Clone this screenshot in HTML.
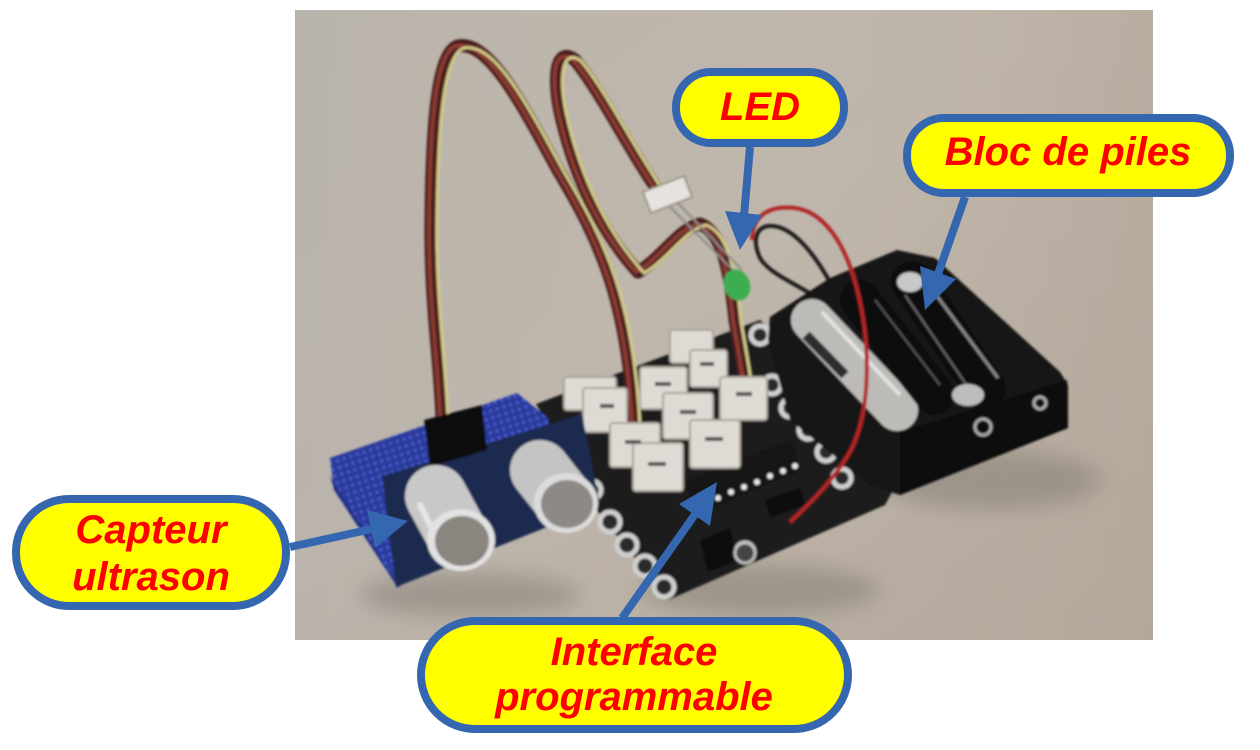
<!DOCTYPE html>
<html><head><meta charset="utf-8"><style>
html,body{margin:0;padding:0;background:#fff;}
svg{display:block;}
text{font-family:"Liberation Sans",Arial,sans-serif;font-weight:bold;font-style:italic;font-size:40px;fill:#ff0000;}
</style></head><body>
<svg width="1260" height="750" viewBox="0 0 1260 750" xmlns="http://www.w3.org/2000/svg">
<defs>
<linearGradient id="bg" x1="0" y1="0" x2="1" y2="1">
<stop offset="0" stop-color="#bcb6ae"/>
<stop offset="0.45" stop-color="#c0b7ac"/>
<stop offset="1" stop-color="#b2a699"/>
</linearGradient>
<linearGradient id="bg2" x1="0" y1="0" x2="1" y2="0">
<stop offset="0" stop-color="#b5b1ab" stop-opacity="0.6"/>
<stop offset="0.5" stop-color="#c0b7ac" stop-opacity="0"/>
<stop offset="1" stop-color="#b5a89a" stop-opacity="0.6"/>
</linearGradient>
<filter id="blur" x="-50%" y="-50%" width="200%" height="200%"><feGaussianBlur stdDeviation="10"/></filter>
<filter id="sblur"><feGaussianBlur stdDeviation="1"/></filter>
<pattern id="holes" width="7" height="7" patternUnits="userSpaceOnUse" patternTransform="rotate(-18)">
<rect width="7" height="7" fill="#2b3a9c"/><rect x="2" y="2" width="3" height="3" fill="#4a5ccc"/>
</pattern>
</defs>
<rect width="1260" height="750" fill="#fff"/>
<rect x="295" y="10" width="858" height="630" fill="url(#bg)"/>
<rect x="295" y="10" width="858" height="630" fill="url(#bg2)"/>

<g filter="url(#blur)" opacity="0.45">
<ellipse cx="470" cy="595" rx="110" ry="22" fill="#7d766d"/>
<ellipse cx="760" cy="590" rx="120" ry="25" fill="#7d766d"/>
<ellipse cx="990" cy="480" rx="110" ry="30" fill="#7d766d"/>
</g>

<g filter="url(#sblur)">
<!-- main board -->
<polygon points="536,404 760,320 905,468 885,505 668,600 598,512" fill="#1b1b1d"/>
<g fill="#2a2a2a" stroke="#cfcfcf" stroke-width="5">
<circle cx="560" cy="440" r="9"/><circle cx="577" cy="465" r="9"/><circle cx="592" cy="490" r="9"/>
<circle cx="610" cy="522" r="10"/><circle cx="627" cy="545" r="10"/><circle cx="645" cy="566" r="10"/><circle cx="664" cy="587" r="10"/>
<circle cx="772" cy="385" r="9"/><circle cx="790" cy="408" r="9"/><circle cx="808" cy="430" r="9"/><circle cx="826" cy="452" r="9"/><circle cx="842" cy="478" r="9"/>
<circle cx="760" cy="335" r="9"/><circle cx="745" cy="552" r="9"/>
</g>
<!-- IC -->
<polygon points="684,482 790,440 802,470 698,514" fill="#121212"/>
<g fill="#e8e8e8"><circle cx="705" cy="503" r="3"/><circle cx="718" cy="498" r="3"/><circle cx="731" cy="492" r="3"/><circle cx="744" cy="487" r="3"/><circle cx="757" cy="482" r="3"/><circle cx="770" cy="476" r="3"/><circle cx="783" cy="471" r="3"/><circle cx="795" cy="466" r="3"/></g>
<polygon points="765,500 800,488 805,505 770,518" fill="#0d0d0d"/>
<polygon points="700,540 730,528 738,560 708,572" fill="#0d0d0d"/>
<circle cx="745" cy="553" r="10" fill="#444" stroke="#bbb" stroke-width="3"/>

<!-- cables -->
<g fill="none" stroke-linecap="round" stroke-linejoin="round">
<path d="M442 418 C440 360 430 300 431 220 C432 120 438 52 458 46 C488 40 520 100 558 170 C600 240 628 300 634 425" stroke="#4a1d1a" stroke-width="13"/>
<path d="M442 418 C440 360 430 300 431 220 C432 120 438 52 458 46 C488 40 520 100 558 170 C600 240 628 300 634 425" stroke="#8a3a30" stroke-width="4" transform="translate(-2,0)"/>
<path d="M442 418 C440 360 430 300 431 220 C432 120 438 52 458 46 C488 40 520 100 558 170 C600 240 628 300 634 425" stroke="#d4cc8a" stroke-width="3" transform="translate(6,2)"/>
<path d="M655 186 C630 150 600 90 575 60 C555 45 552 80 562 120 C575 175 600 230 638 272 C660 260 680 228 700 224 C722 232 730 270 735 320 C740 350 744 370 746 388" stroke="#4a1d1a" stroke-width="13"/>
<path d="M655 186 C630 150 600 90 575 60 C555 45 552 80 562 120 C575 175 600 230 638 272 C660 260 680 228 700 224 C722 232 730 270 735 320 C740 350 744 370 746 388" stroke="#8a3a30" stroke-width="4" transform="translate(-2,0)"/>
<path d="M655 186 C630 150 600 90 575 60 C555 45 552 80 562 120 C575 175 600 230 638 272 C660 260 680 228 700 224 C722 232 730 270 735 320 C740 350 744 370 746 388" stroke="#d4cc8a" stroke-width="3" transform="translate(6,1)"/>
</g>

<!-- white connectors -->
<g fill="#dedad4" stroke="#aaa39a" stroke-width="2">
<rect x="564" y="377" width="52" height="33" rx="3"/>
<rect x="583" y="388" width="44" height="44" rx="3"/>
<rect x="640" y="367" width="47" height="42" rx="3"/>
<rect x="670" y="330" width="43" height="33" rx="3"/>
<rect x="690" y="350" width="37" height="37" rx="3"/>
<rect x="663" y="393" width="50" height="46" rx="3"/>
<rect x="720" y="377" width="47" height="43" rx="3"/>
<rect x="610" y="423" width="50" height="44" rx="3"/>
<rect x="690" y="420" width="50" height="48" rx="3"/>
<rect x="633" y="443" width="50" height="48" rx="3"/>
</g>
<g fill="#555"><rect x="600" y="404" width="14" height="4"/><rect x="625" y="440" width="16" height="4"/><rect x="648" y="462" width="18" height="4"/><rect x="680" y="410" width="16" height="4"/><rect x="705" y="437" width="18" height="4"/><rect x="655" y="382" width="16" height="4"/><rect x="736" y="392" width="16" height="4"/><rect x="700" y="362" width="14" height="4"/></g>

<!-- breadboard -->
<polygon points="330,458 517,393 548,418 552,442 398,588 334,490" fill="url(#holes)"/>
<polygon points="334,488 398,588 394,580 330,476" fill="#1f2b78"/>
<polygon points="382,476 582,414 600,506 396,587" fill="#1d2a50"/>
<polygon points="424,420 482,405 487,450 430,467" fill="#0d0d0d"/>
<line x1="540" y1="470" x2="566" y2="503" stroke="#c4c4c4" stroke-width="60" stroke-linecap="round"/>
<ellipse cx="566" cy="503" rx="32" ry="30" fill="#dcdcdc"/>
<ellipse cx="567" cy="504" rx="26" ry="24" fill="#8e8984"/>
<line x1="436" y1="496" x2="460" y2="540" stroke="#c8c8c8" stroke-width="62" stroke-linecap="round"/>
<line x1="420" y1="505" x2="440" y2="545" stroke="#e6e6e6" stroke-width="6" stroke-linecap="round"/>
<ellipse cx="461" cy="540" rx="34" ry="31" fill="#e2e2e2"/>
<ellipse cx="462" cy="541" rx="27" ry="25" fill="#8a857f"/>

<!-- black wire (behind holder) -->
<path d="M820 300 C800 285 770 275 760 258 C752 240 756 228 768 226 C790 224 812 250 830 282" fill="none" stroke="#1a1a1a" stroke-width="4"/>

<!-- battery holder -->
<polygon points="770,317 830,278 897,250 935,258 1060,372 1068,385 1068,428 900,495 870,485 790,420 768,340" fill="#161616"/>
<!-- silver battery -->
<line x1="812" y1="320" x2="897" y2="410" stroke="#bdbbb8" stroke-width="42" stroke-linecap="round"/>
<line x1="806" y1="335" x2="845" y2="375" stroke="#2e2e2e" stroke-width="10"/>
<line x1="822" y1="312" x2="900" y2="395" stroke="#e2e2e2" stroke-width="4"/>
<!-- black batteries -->
<line x1="860" y1="300" x2="935" y2="395" stroke="#0e0e0e" stroke-width="40" stroke-linecap="round"/>
<line x1="912" y1="282" x2="985" y2="388" stroke="#0f0f0f" stroke-width="42" stroke-linecap="round"/>
<line x1="875" y1="300" x2="940" y2="385" stroke="#555" stroke-width="2"/>
<line x1="905" y1="295" x2="970" y2="390" stroke="#666" stroke-width="2"/>
<line x1="928" y1="284" x2="998" y2="378" stroke="#888" stroke-width="3"/>
<ellipse cx="910" cy="282" rx="13" ry="10" fill="#c8c8c8"/>
<ellipse cx="968" cy="395" rx="16" ry="11" fill="#bdbdbd"/>
<!-- front face -->
<polygon points="900,432 1067,380 1068,428 900,495" fill="#0b0b0b"/>
<circle cx="983" cy="427" r="8" fill="none" stroke="#aaa" stroke-width="3"/>
<circle cx="1040" cy="403" r="6" fill="none" stroke="#aaa" stroke-width="3"/>

<!-- red wire -->
<path d="M752 240 C752 215 770 205 795 208 C825 212 845 245 856 285 C872 345 870 410 852 448 C835 480 808 505 790 522" fill="none" stroke="#b02525" stroke-width="4"/>

<!-- plug & LED -->
<line x1="668" y1="205" x2="735" y2="272" stroke="#8a8a8a" stroke-width="2"/>
<line x1="678" y1="203" x2="742" y2="270" stroke="#8a8a8a" stroke-width="2"/>
<polygon points="643,192 684,176 692,197 651,213" fill="#e6e2dd" stroke="#9a948c" stroke-width="2"/>
<ellipse cx="737" cy="285" rx="13" ry="16" fill="#3cae50" transform="rotate(-20 737 285)"/>
</g>

<!-- callouts -->
<g fill="#ffff00" stroke="#3467b0" stroke-width="8">
<rect x="16" y="499" width="270" height="107" rx="53"/>
<rect x="421" y="621" width="427" height="108" rx="54"/>
<rect x="676" y="72" width="168" height="71" rx="35"/>
<rect x="907" y="118" width="323" height="75" rx="37"/>
</g>
<g stroke="#3467b0" stroke-width="8" fill="none">
<line x1="290" y1="547" x2="372" y2="529"/>
<line x1="622" y1="618" x2="696" y2="513"/>
<line x1="750" y1="147" x2="744" y2="216"/>
<line x1="965" y1="197" x2="938" y2="274"/>
</g>
<g fill="#3467b0">
<polygon points="408,521 375,548 367,510"/>
<polygon points="717,482 710,526 679,504"/>
<polygon points="740,250 762,215 725,211"/>
<polygon points="925,310 956,279 920,266"/>
</g>
<text x="151" y="543" text-anchor="middle">Capteur</text>
<text x="151" y="590" text-anchor="middle">ultrason</text>
<text x="634" y="665" text-anchor="middle">Interface</text>
<text x="634" y="710" text-anchor="middle">programmable</text>
<text x="760" y="120" text-anchor="middle">LED</text>
<text x="1068" y="165" text-anchor="middle">Bloc de piles</text>
</svg>
</body></html>
